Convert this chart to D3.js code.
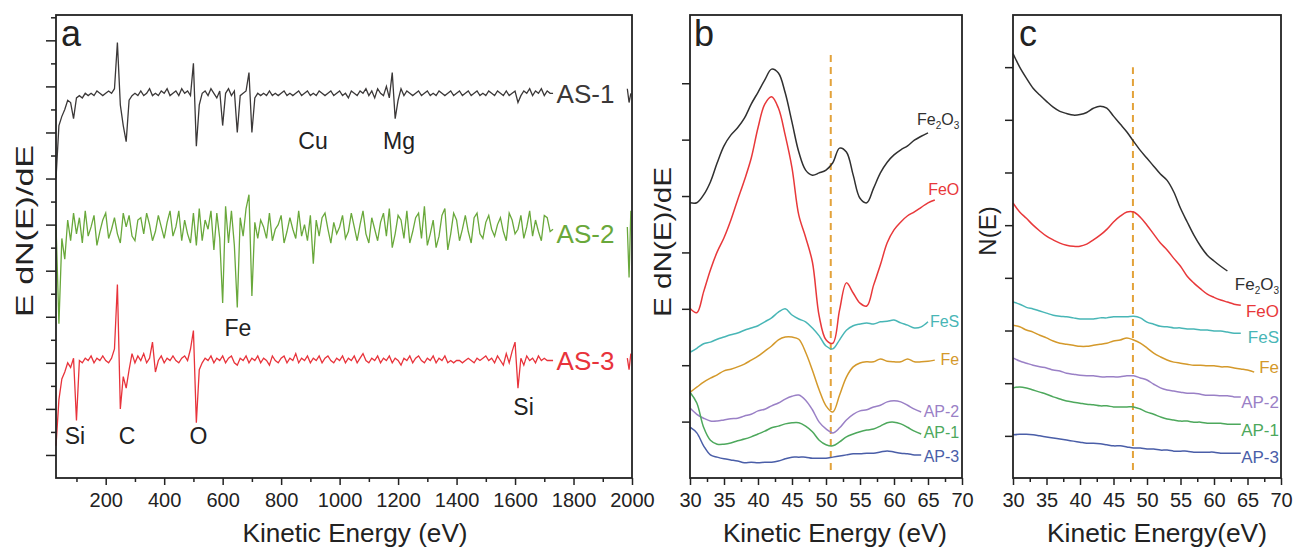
<!DOCTYPE html>
<html>
<head>
<meta charset="UTF-8">
<title>AES spectra</title>
<script src="https://d3js.org/d3.v7.min.js"></script>
<style>
body { margin: 0; background: #fff; }
svg { font-family: "Liberation Sans", Arial, sans-serif; }
</style>
</head>
<body>
<script>
// ---- panel a : survey spectra, one value every 10 eV from 30 to 1730 eV ----
var surveyEnergy = d3.range(30, 1731, 10);
var as1 = [
  13.0,15.3,15.7,16.0,16.4,16.3,15.6,16.5,16.6,16.5,
  16.7,16.6,16.7,16.6,16.8,16.7,16.6,16.7,16.8,16.7,
  16.9,18.9,16.2,15.3,14.6,16.4,16.6,16.7,16.6,16.8,
  16.6,16.7,16.9,16.6,16.7,16.6,16.8,16.7,16.9,16.6,
  16.7,16.8,16.6,16.9,16.7,16.8,16.6,18.0,14.4,16.2,
  16.7,16.8,16.6,16.9,16.7,16.5,16.8,15.3,16.7,16.9,
  16.6,16.8,15.0,16.6,16.7,16.8,17.6,15.0,16.5,16.7,
  16.6,16.7,16.6,16.8,16.6,16.7,16.6,16.7,16.8,16.6,
  16.7,16.6,16.7,16.8,16.6,16.7,16.8,16.6,16.7,16.6,
  16.8,16.7,16.6,16.7,16.8,16.6,16.7,16.8,16.6,16.7,
  16.5,16.8,16.7,16.6,16.8,16.7,16.9,16.6,16.8,16.5,
  16.9,16.7,16.6,17.0,16.5,17.6,15.6,16.4,16.9,16.6,
  16.8,16.7,16.6,16.7,16.8,16.6,16.7,16.8,16.6,16.7,
  16.6,16.8,16.7,16.6,16.7,16.8,16.6,16.7,16.8,16.6,
  16.7,16.8,16.6,16.7,16.8,16.6,16.7,16.6,16.8,16.7,
  16.6,16.8,16.7,16.6,16.8,16.6,16.7,16.8,16.3,16.6,
  16.8,16.7,16.9,16.6,16.8,16.7,16.9,16.6,16.8,16.7,
  16.7];
var as2 = [
  11.0,6.7,10.4,9.5,11.2,10.3,11.5,10.6,11.3,10.2,
  11.6,10.5,10.9,11.4,10.1,10.7,11.2,11.5,10.4,10.8,
  11.3,10.6,10.2,11.5,10.9,11.4,10.5,10.3,11.2,11.3,
  10.6,11.5,11.0,10.3,10.7,11.4,10.9,10.4,11.1,11.6,
  10.5,10.9,11.6,10.3,11.2,10.6,10.2,11.5,10.1,11.7,
  10.3,11.2,10.8,11.6,9.9,11.5,10.4,7.6,11.8,10.2,
  11.6,10.1,7.4,11.3,10.5,11.7,12.3,7.9,11.1,10.4,
  11.2,10.9,10.4,11.5,10.3,10.8,11.0,11.4,10.2,10.7,
  11.3,10.8,10.4,11.6,10.5,11.0,10.3,11.4,9.3,11.2,
  10.5,11.3,11.5,10.8,10.2,11.1,10.6,10.9,11.4,10.4,
  10.7,11.5,10.9,10.3,11.0,11.6,10.6,10.2,11.3,10.8,
  10.3,11.1,11.5,10.5,11.7,10.0,10.6,11.4,11.2,10.4,
  11.6,10.2,10.7,11.3,11.5,10.4,11.8,10.1,10.6,11.2,
  10.0,10.5,11.4,11.7,9.9,10.6,11.5,11.2,10.3,10.8,
  11.4,10.7,10.2,11.3,11.5,10.6,10.4,11.1,11.4,10.8,
  10.5,11.0,11.3,10.7,10.3,11.5,11.2,10.6,10.8,11.4,
  10.4,10.9,11.6,10.5,11.2,10.7,10.3,11.4,11.3,10.7,
  10.8];
var as3 = [
  1.4,3.4,4.3,4.6,5.0,4.8,5.2,2.5,5.1,5.0,
  5.2,5.1,5.3,5.0,5.2,5.1,5.3,5.1,5.0,5.2,
  5.6,8.4,3.0,4.4,3.9,4.7,5.4,5.0,5.3,5.1,
  5.4,5.0,5.2,5.9,4.6,5.1,5.3,5.0,5.2,5.1,
  5.3,5.1,5.0,5.2,5.3,5.1,5.6,6.4,2.4,4.7,
  5.0,5.2,5.1,5.3,5.0,5.2,5.1,5.3,5.0,5.2,
  5.3,5.0,4.9,5.2,5.1,5.3,5.0,5.2,5.1,5.3,
  5.0,5.2,5.1,4.9,5.3,5.1,5.0,5.2,5.3,5.0,
  5.2,5.1,5.4,5.0,5.2,5.1,5.3,5.0,5.2,5.1,
  5.3,5.0,5.2,5.3,5.1,5.0,5.2,5.1,5.3,5.0,
  5.2,5.1,5.3,5.0,5.2,5.4,5.1,5.0,5.2,5.1,
  5.3,5.0,5.2,5.1,5.3,5.0,5.2,5.1,4.9,5.2,
  5.1,5.3,5.0,5.2,5.3,5.1,5.0,5.2,5.1,5.3,
  5.0,5.2,5.1,5.3,5.0,5.1,5.0,5.1,5.1,5.0,
  5.1,5.2,5.1,5.0,5.2,5.1,5.2,5.3,5.1,5.2,
  5.0,5.3,5.1,4.9,5.4,5.0,5.5,5.9,3.9,5.2,
  4.9,5.3,5.1,5.2,5.0,5.3,5.1,5.2,5.1,5.1,
  5.1];
// bits of the traces that show again at the right edge, past the labels
var tailEnergy = [1984, 1990, 1996];
var as1Tail = [16.9, 16.3, 16.7];
var as2Tail = [10.9, 8.7, 11.6];
var as3Tail = [5.2, 4.7, 5.4];

var surveyNames = ["AS-1", "AS-2", "AS-3"];
var surveyColors = ["#3b3838", "#69a83b", "#e8333b"];
var peakNames = ["Cu", "Mg", "Fe", "Si", "C", "O", "Si"];
var peakEnergy = [909, 1203, 652, 95, 273, 517, 1629];
var peakLevel = [14.3, 14.3, 6.15, 1.48, 1.48, 1.48, 2.74];

// ---- panel b : E dN(E)/dE, one value per eV from 30 eV ----
var dnFe2O3 = [4.88,4.88,5.02,5.25,5.59,5.89,6.08,6.21,6.38,6.63,6.84,7.06,7.25,7.18,6.83,6.31,5.78,5.46,5.37,5.41,5.46,5.59,5.85,5.78,5.37,4.96,4.88,5.14,5.41,5.60,5.73,5.82,5.89,5.99,6.06,6.12];
var dnFeO = [3.01,2.93,3.30,3.69,4.01,4.26,4.57,4.93,5.28,5.67,6.21,6.63,6.76,6.56,6.08,5.50,4.66,4.27,3.83,2.87,2.45,2.39,2.98,3.46,3.28,3.10,3.05,3.42,3.78,4.17,4.40,4.54,4.65,4.72,4.80,4.88,4.93];
var dnFeS = [2.23,2.30,2.38,2.41,2.46,2.50,2.54,2.57,2.62,2.66,2.70,2.77,2.84,2.94,3.00,2.89,2.82,2.77,2.66,2.52,2.34,2.29,2.45,2.62,2.70,2.73,2.75,2.73,2.77,2.78,2.80,2.75,2.71,2.66,2.68,2.77];
var dnFe = [1.52,1.61,1.70,1.77,1.83,1.90,1.93,1.97,2.02,2.09,2.16,2.25,2.34,2.45,2.50,2.50,2.46,2.23,1.91,1.56,1.28,1.17,1.47,1.79,1.97,2.04,2.06,2.06,2.11,2.07,2.06,2.06,2.11,2.06,2.06,2.07,2.09];
var dnAP2 = [1.24,1.13,1.06,1.01,1.01,1.03,1.05,1.06,1.10,1.13,1.19,1.22,1.28,1.33,1.40,1.45,1.47,1.38,1.21,0.99,0.87,0.80,0.89,1.03,1.13,1.19,1.21,1.26,1.29,1.35,1.37,1.35,1.29,1.22,1.17];
var dnAP1 = [1.52,1.33,0.90,0.67,0.60,0.60,0.62,0.66,0.69,0.73,0.78,0.83,0.89,0.92,0.96,0.98,0.98,0.92,0.82,0.67,0.59,0.57,0.64,0.73,0.78,0.82,0.85,0.87,0.92,0.98,0.99,0.96,0.90,0.83,0.78];
var dnAP3 = [0.90,0.80,0.57,0.41,0.37,0.34,0.32,0.30,0.27,0.28,0.27,0.28,0.28,0.30,0.34,0.37,0.37,0.37,0.35,0.35,0.35,0.37,0.39,0.41,0.43,0.43,0.44,0.44,0.46,0.48,0.46,0.44,0.43,0.41,0.41];

// ---- panel c : N(E), one value per eV from 30 eV ----
var nFe2O3 = [8.26,8.00,7.79,7.60,7.47,7.35,7.24,7.16,7.12,7.09,7.10,7.14,7.22,7.26,7.22,7.07,6.92,6.77,6.59,6.42,6.27,6.12,5.97,5.85,5.63,5.32,5.06,4.81,4.60,4.43,4.32,4.22,4.13];
var nFeO = [5.42,5.25,5.13,5.00,4.89,4.79,4.72,4.66,4.62,4.60,4.60,4.64,4.72,4.81,4.92,5.06,5.17,5.25,5.25,5.15,5.00,4.83,4.66,4.53,4.37,4.22,4.03,3.90,3.79,3.69,3.63,3.58,3.54,3.50,3.48];
var nFeS = [3.54,3.50,3.44,3.41,3.37,3.33,3.29,3.27,3.26,3.24,3.22,3.22,3.22,3.24,3.24,3.26,3.26,3.26,3.27,3.24,3.16,3.12,3.08,3.07,3.05,3.05,3.03,3.03,3.01,3.01,2.99,2.99,2.97,2.95,2.95];
var nFe = [3.10,3.07,3.01,2.97,2.91,2.86,2.80,2.76,2.74,2.72,2.70,2.70,2.72,2.74,2.76,2.80,2.82,2.86,2.82,2.76,2.67,2.57,2.50,2.44,2.40,2.38,2.36,2.34,2.34,2.33,2.33,2.31,2.31,2.29,2.27,2.25,2.21];
var nAP2 = [2.48,2.42,2.38,2.34,2.31,2.29,2.25,2.23,2.19,2.17,2.15,2.14,2.14,2.12,2.12,2.12,2.12,2.14,2.14,2.10,2.06,1.98,1.91,1.87,1.85,1.83,1.81,1.81,1.79,1.77,1.77,1.76,1.76,1.74,1.74];
var nAP1 = [1.91,1.93,1.91,1.87,1.83,1.79,1.74,1.70,1.66,1.64,1.62,1.60,1.59,1.57,1.57,1.55,1.55,1.55,1.55,1.51,1.45,1.41,1.36,1.32,1.30,1.28,1.28,1.26,1.26,1.24,1.24,1.24,1.22,1.22,1.22];
var nAP3 = [1.02,1.03,1.03,1.02,1.00,0.98,0.96,0.94,0.92,0.90,0.88,0.86,0.86,0.85,0.83,0.81,0.81,0.79,0.77,0.77,0.75,0.75,0.73,0.73,0.71,0.71,0.71,0.69,0.69,0.69,0.69,0.67,0.67,0.67,0.67];

var fineNames = ["Fe2O3", "FeO", "FeS", "Fe", "AP-2", "AP-1", "AP-3"];
var fineColors = ["#303030", "#e8383a", "#48b6b6", "#d4992b", "#9a80c6", "#4da85c", "#4a5ea8"];
var labelLevelB = [6.26, 5.02, 2.68, 2.00, 1.08, 0.71, 0.28];
var labelLevelC = [3.77, 3.25, 2.76, 2.19, 1.53, 1.00, 0.48];
var dashB = { e: 50.7, from: 0.14, to: 7.5 };
var dashC = { e: 47.9, from: 0.35, to: 8.0 };

var W = 1294, H = 551, plotBottom = 478, plotTop = 15;
var ink = "#222";

var svg = d3.select("body").append("svg")
    .attr("width", W)
    .attr("height", H);

var xA = d3.scaleLinear().domain([30, 2000]).range([56, 632]);
var yA = d3.scaleLinear().domain([0, 20.1]).range([plotBottom, plotTop]);
var xB = d3.scaleLinear().domain([30, 70]).range([690, 962]);
var yB = d3.scaleLinear().domain([0, 8.21]).range([plotBottom, plotTop]);
var xC = d3.scaleLinear().domain([30, 70]).range([1013, 1281]);
var yC = d3.scaleLinear().domain([0.2, 8.99]).range([plotBottom, plotTop]);

function styleAxis(g) {
    g.select(".domain").remove();
    g.attr("font-family", null).attr("font-size", null);
    g.selectAll("line").attr("stroke", ink).attr("stroke-width", 1.5);
    g.selectAll("text").attr("fill", ink).style("font-size", "20px");
}

function xAxis(x, major, minor) {
    svg.append("g").attr("transform", "translate(0," + plotBottom + ")")
        .call(d3.axisBottom(x).tickValues(minor).tickSize(4).tickFormat(""))
        .call(styleAxis);
    svg.append("g").attr("transform", "translate(0," + plotBottom + ")")
        .call(d3.axisBottom(x).tickValues(major).tickSize(7).tickPadding(8).tickFormat(d3.format("d")))
        .call(styleAxis);
}

function yAxis(y, x0, vals, size) {
    svg.append("g").attr("transform", "translate(" + x0 + ",0)")
        .call(d3.axisLeft(y).tickValues(vals).tickSize(size).tickFormat(""))
        .call(styleAxis);
}

function frame(x) {
    svg.append("rect")
        .attr("x", x.range()[0]).attr("y", plotTop)
        .attr("width", x.range()[1] - x.range()[0])
        .attr("height", plotBottom - plotTop)
        .attr("fill", "none").attr("stroke", ink).attr("stroke-width", 1.8);
}

function xTitle(cx, txt, len) {
    svg.append("text").attr("x", cx).attr("y", 542)
        .attr("text-anchor", "middle").attr("fill", ink)
        .attr("textLength", len).attr("lengthAdjust", "spacingAndGlyphs")
        .style("font-size", "25px").text(txt);
}

function yTitle(x, cy, txt, len) {
    var t = svg.append("text")
        .attr("transform", "translate(" + x + "," + cy + ") rotate(-90)")
        .attr("text-anchor", "middle").attr("fill", ink)
        .style("font-size", "24px").text(txt);
    if (len) t.attr("textLength", len).attr("lengthAdjust", "spacingAndGlyphs");
}

function panelLetter(x, txt) {
    svg.append("text").attr("x", x).attr("y", 46).attr("fill", ink)
        .style("font-size", "36px").text(txt);
}

// chemical formula with subscript digits
function formula(sel, name) {
    if (name.indexOf("AP") === 0) { sel.text(name); return; }
    var parts = name.match(/[A-Za-z]+|\d+/g);
    var down = false;
    parts.forEach(function (p) {
        var isNum = /^\d+$/.test(p);
        var ts = sel.append("tspan").text(p);
        if (isNum) {
            ts.style("font-size", "10px");
            if (!down) { ts.attr("dy", 4); down = true; }
        } else if (down) { ts.attr("dy", -4); down = false; }
    });
}

// ---------- panel a ----------
var lineA = d3.line().x(function (d) { return xA(d[0]); }).y(function (d) { return yA(d[1]); });
[as1, as2, as3].forEach(function (s, i) {
    svg.append("path")
        .datum(s.map(function (v, k) { return [surveyEnergy[k], v]; }))
        .attr("d", lineA).attr("fill", "none")
        .attr("stroke", surveyColors[i]).attr("stroke-width", 1.3);
});
[as1Tail, as2Tail, as3Tail].forEach(function (s, i) {
    svg.append("path")
        .datum(s.map(function (v, k) { return [tailEnergy[k], v]; }))
        .attr("d", lineA).attr("fill", "none")
        .attr("stroke", surveyColors[i]).attr("stroke-width", 1.3);
});
var surveyLevel = [16.3, 10.2, 4.69];
surveyNames.forEach(function (n, i) {
    svg.append("text").attr("x", xA(1742)).attr("y", yA(surveyLevel[i]))
        .attr("fill", surveyColors[i]).style("font-size", "26px").text(n);
});
peakNames.forEach(function (n, i) {
    svg.append("text").attr("x", xA(peakEnergy[i])).attr("y", yA(peakLevel[i]))
        .attr("text-anchor", "middle").attr("fill", ink)
        .style("font-size", "23px").text(n);
});
yAxis(yA, 56, d3.range(1, 21, 2), 10);
yAxis(yA, 56, d3.range(2, 21, 2), 5);
xAxis(xA, d3.range(200, 2001, 200), d3.range(100, 2000, 200));
frame(xA);
xTitle(355, "Kinetic Energy (eV)", 225);
yTitle(33, 231, "E dN(E)/dE", 172);
panelLetter(61, "a");

// ---------- panels b and c ----------
function finePanel(x, y, series, levels, dash, fs, endEv) {
    var line = d3.line().curve(d3.curveCatmullRom)
        .x(function (d, k) { return x(30 + k); })
        .y(function (d) { return y(d); });
    svg.append("line")
        .attr("x1", x(dash.e)).attr("x2", x(dash.e))
        .attr("y1", y(dash.from)).attr("y2", y(dash.to))
        .attr("stroke", "#e3a23a").attr("stroke-width", 2)
        .attr("stroke-dasharray", "7,5");
    series.forEach(function (s, i) {
        svg.append("path").datum(s).attr("d", line)
            .attr("fill", "none").attr("stroke", fineColors[i])
            .attr("stroke-width", 1.5);
    });
    fineNames.forEach(function (n, i) {
        var t = svg.append("text").attr("x", x(endEv)).attr("y", y(levels[i]))
            .attr("text-anchor", "end").attr("fill", fineColors[i])
            .style("font-size", fs);
        formula(t, n);
    });
    xAxis(x, d3.range(30, 71, 5), d3.range(32.5, 70, 5));
    frame(x);
}

finePanel(xB, yB, [dnFe2O3, dnFeO, dnFeS, dnFe, dnAP2, dnAP1, dnAP3], labelLevelB, dashB, "16px", 69.6);
yAxis(yB, 690, d3.range(1, 8), 8);
xTitle(835, "Kinetic Energy (eV)", 224);
yTitle(671, 242, "E dN(E)/dE", 150);
panelLetter(694, "b");

finePanel(xC, yC, [nFe2O3, nFeO, nFeS, nFe, nAP2, nAP1, nAP3], labelLevelC, dashC, "17px", 69.7);
yAxis(yC, 1013, d3.range(1, 9), 8);
xTitle(1157, "Kinetic Energy(eV)", 220);
yTitle(996, 231, "N(E)");
panelLetter(1019, "c");
</script>
</body>
</html>
